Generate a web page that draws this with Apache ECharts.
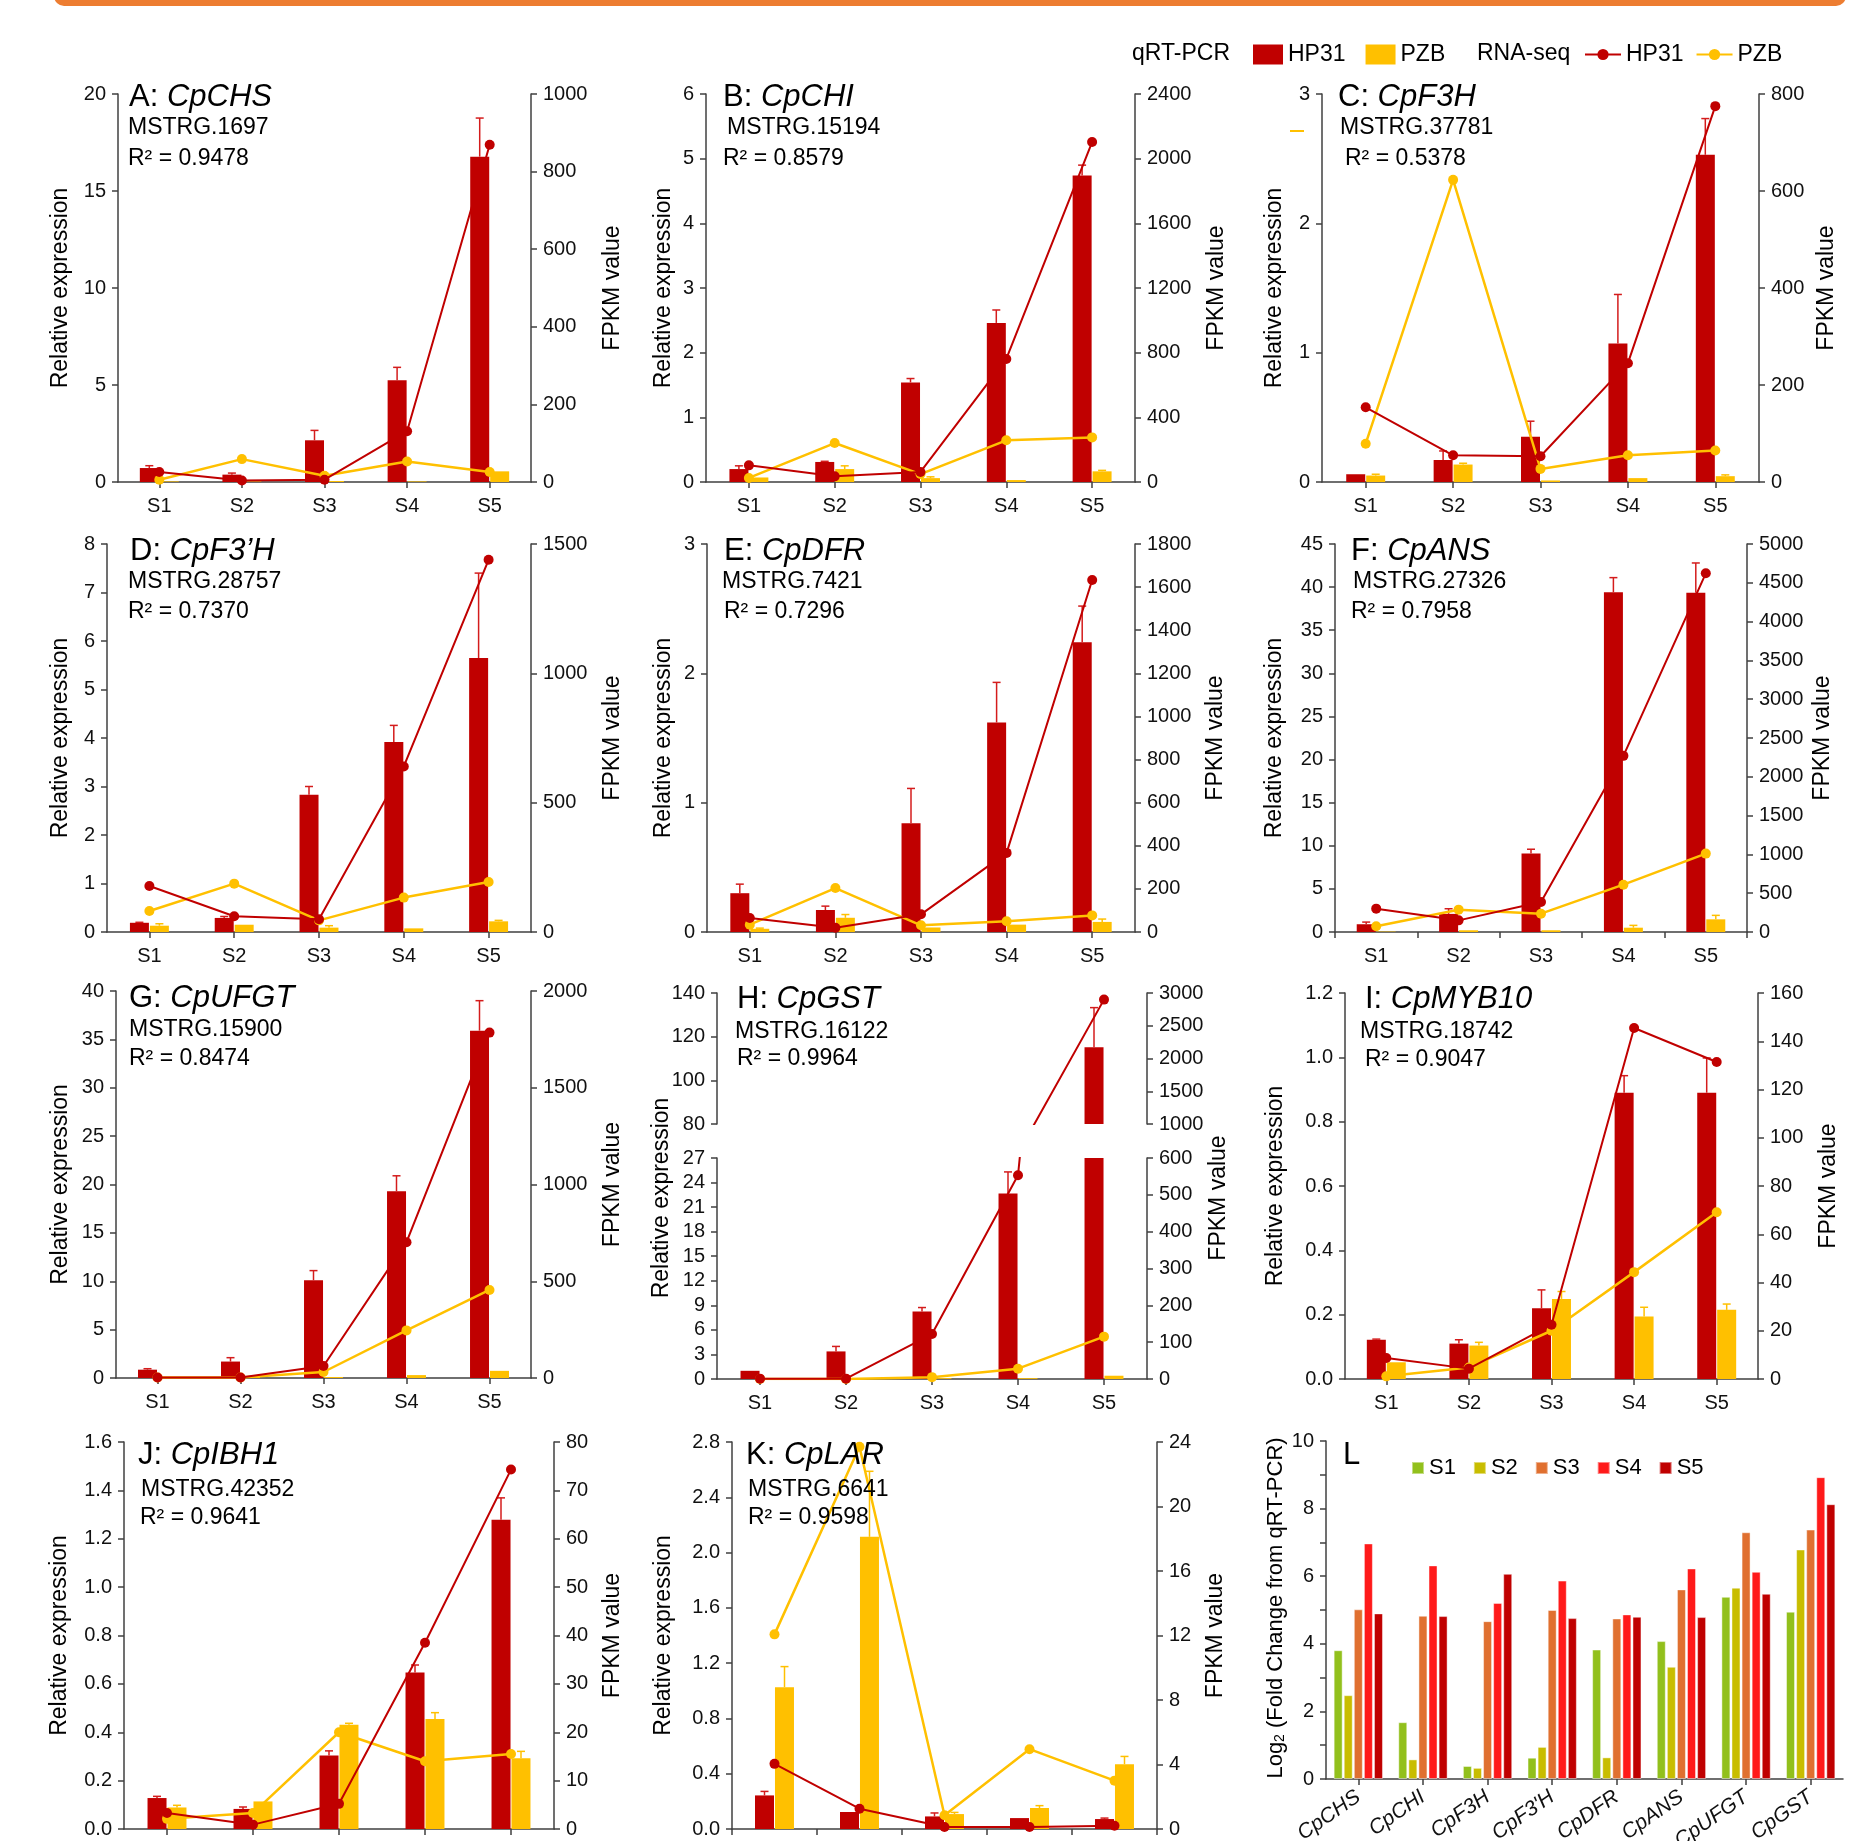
<!DOCTYPE html>
<html><head><meta charset="utf-8">
<script src="https://cdn.jsdelivr.net/npm/echarts@6/dist/echarts.min.js"></script>
<style>html,body{margin:0;padding:0;background:#fff}#c{width:1868px;height:1841px}</style>
</head><body><div id="c"></div>
<script>
// ---------------- DATA ----------------
const stages = ['S1','S2','S3','S4','S5'];

// A: CpCHS
const A_qHP31 = [0.72, 0.38, 2.15, 5.24, 16.77];
const A_qHP31_sd = [0.12, 0.08, 0.51, 0.67, 1.99];
const A_qPZB = [0.03, 0.03, 0.05, 0.03, 0.55];
const A_qPZB_sd = [0, 0, 0, 0, 0];
const A_fHP31 = [26, 4, 6, 131, 869];
const A_fPZB = [6, 59, 16, 53, 26];
// B: CpCHI
const B_qHP31 = [0.20, 0.31, 1.54, 2.46, 4.74];
const B_qHP31_sd = [0.05, 0.01, 0.06, 0.20, 0.16];
const B_qPZB = [0.07, 0.20, 0.06, 0.03, 0.165];
const B_qPZB_sd = [0, 0.05, 0.02, 0, 0.015];
const B_fHP31 = [103, 35, 62, 761, 2103];
const B_fPZB = [25, 241, 49, 258, 276];
// C: CpF3H
const C_qHP31 = [0.06, 0.17, 0.35, 1.07, 2.53];
const C_qHP31_sd = [0, 0.07, 0.12, 0.38, 0.28];
const C_qPZB = [0.05, 0.135, 0.012, 0.03, 0.045];
const C_qPZB_sd = [0.01, 0.01, 0, 0, 0.01];
const C_fHP31 = [154, 55, 53, 245, 775];
const C_fPZB = [79, 623, 27, 55, 65];
// D: CpF3'H
const D_qHP31 = [0.19, 0.29, 2.83, 3.92, 5.65];
const D_qHP31_sd = [0.01, 0.03, 0.17, 0.34, 1.75];
const D_qPZB = [0.13, 0.15, 0.09, 0.075, 0.22];
const D_qPZB_sd = [0.04, 0, 0.04, 0, 0.02];
const D_fHP31 = [178, 61, 49, 640, 1439];
const D_fPZB = [81, 187, 45, 133, 193];
// E: CpDFR
const E_qHP31 = [0.30, 0.17, 0.84, 1.62, 2.24];
const E_qHP31_sd = [0.07, 0.03, 0.27, 0.31, 0.28];
const E_qPZB = [0.025, 0.11, 0.035, 0.057, 0.078];
const E_qPZB_sd = [0.005, 0.025, 0, 0, 0.022];
const E_fHP31 = [65, 20, 82, 367, 1633];
const E_fPZB = [34, 204, 31, 50, 77];
// F: CpANS
const F_qHP31 = [0.9, 2.1, 9.1, 39.4, 39.35];
const F_qHP31_sd = [0.25, 0.6, 0.5, 1.7, 3.45];
const F_qPZB = [0.05, 0.2, 0.2, 0.5, 1.47];
const F_qPZB_sd = [0, 0, 0, 0.27, 0.46];
const F_fHP31 = [301, 150, 387, 2270, 4622];
const F_fPZB = [73, 288, 236, 610, 1010];
// G: CpUFGT
const G_qHP31 = [0.86, 1.7, 10.1, 19.3, 35.9];
const G_qHP31_sd = [0.1, 0.4, 1.0, 1.6, 3.1];
const G_qPZB = [0.1, 0.1, 0.1, 0.3, 0.74];
const G_qPZB_sd = [0, 0, 0, 0, 0];
const G_fHP31 = [3, 3, 62, 702, 1785];
const G_fPZB = [3, 3, 31, 246, 455];
// H: CpGST
const H_qHP31 = [1.0, 3.37, 8.24, 22.65, 115.1];
const H_qHP31_sd = [0, 0.61, 0.49, 2.65, 18.2];
const H_qPZB = [0.05, 0.05, 0.1, 0.1, 0.4];
const H_qPZB_sd = [0, 0, 0, 0, 0];
const H_fHP31 = [1, 1, 122, 553, 2899];
const H_fPZB = [0, 0, 5, 28, 115];
// I: CpMYB10
const I_qHP31 = [0.122, 0.11, 0.22, 0.89, 0.89];
const I_qHP31_sd = [0.002, 0.012, 0.057, 0.053, 0.108];
const I_qPZB = [0.052, 0.104, 0.249, 0.194, 0.215];
const I_qPZB_sd = [0, 0.01, 0.023, 0.029, 0.018];
const I_fHP31 = [8.7, 4.3, 22.5, 145.5, 131.4];
const I_fPZB = [1.1, 4.8, 20, 44.3, 69.1];
// J: CpIBH1
const J_qHP31 = [0.128, 0.083, 0.304, 0.647, 1.279];
const J_qHP31_sd = [0.007, 0.008, 0.019, 0.031, 0.09];
const J_qPZB = [0.089, 0.114, 0.431, 0.455, 0.293];
const J_qPZB_sd = [0.009, 0, 0.006, 0.026, 0.028];
const J_fHP31 = [3.3, 0.9, 5.2, 38.5, 74.3];
const J_fPZB = [2.1, 3.3, 20, 14, 15.5];
// K: CpLAR
const K_qHP31 = [0.243, 0.123, 0.091, 0.079, 0.072];
const K_qHP31_sd = [0.029, 0, 0.025, 0, 0.007];
const K_qPZB = [1.026, 2.114, 0.108, 0.152, 0.469];
const K_qPZB_sd = [0.149, 0.474, 0.012, 0.017, 0.056];
const K_fHP31 = [4.04, 1.26, 0.12, 0.12, 0.2];
const K_fPZB = [12.07, 23.7, 0.85, 4.95, 3.0];
// L: log2 fold change
const L_genes = ['CpCHS','CpCHI','CpF3H',"CpF3'H",'CpDFR','CpANS','CpUFGT','CpGST'];
const L_S1 = [3.81, 1.68, 0.385, 0.63, 3.83, 4.08, 5.39, 4.95];
const L_S2 = [2.48, 0.58, 0.33, 0.95, 0.64, 3.32, 5.66, 6.79];
const L_S3 = [5.02, 4.83, 4.67, 5.0, 4.75, 5.61, 7.3, 7.38];
const L_S4 = [6.97, 6.32, 5.21, 5.87, 4.87, 6.23, 6.13, 8.93];
const L_S5 = [4.9, 4.82, 6.07, 4.76, 4.8, 4.79, 5.48, 8.13];

// ---------------- STYLE / LAYOUT ----------------
const FONT = "'Liberation Sans', Arial, Helvetica, sans-serif";
const TXT = '#111';
const AX = '#404040';
const RED = '#c00000', YEL = '#ffc000', RED_ERR = '#d41c1c';
const L_COLORS = ['#92c01c', '#c8bd00', '#e07030', '#ff1a1a', '#c00000'];
const TICK_FS = 20;

const panels = [
 {id:'A', gene:'CpCHS', mstrg:'MSTRG.1697', r2:'0.9478', q1:A_qHP31,e1:A_qHP31_sd,q2:A_qPZB,e2:A_qPZB_sd,f1:A_fHP31,f2:A_fPZB,
  box:[118,94,531,482], yL:[0,20,5], yR:[0,1000,200], center:true, showX:true, t:[129,97], m:[128,128], r:[128,159], relX:61, fpX:613},
 {id:'B', gene:'CpCHI', mstrg:'MSTRG.15194', r2:'0.8579', q1:B_qHP31,e1:B_qHP31_sd,q2:B_qPZB,e2:B_qPZB_sd,f1:B_fHP31,f2:B_fPZB,
  box:[706,94,1135,482], yL:[0,6,1], yR:[0,2400,400], center:true, showX:true, t:[723,97], m:[727,128], r:[723,159], relX:664, fpX:1217},
 {id:'C', gene:'CpF3H', mstrg:'MSTRG.37781', r2:'0.5378', q1:C_qHP31,e1:C_qHP31_sd,q2:C_qPZB,e2:C_qPZB_sd,f1:C_fHP31,f2:C_fPZB,
  box:[1322,94,1759,482], yL:[0,3,1], yR:[0,800,200], center:true, showX:true, t:[1338,97], m:[1340,128], r:[1345,159], relX:1275, fpX:1827},
 {id:'D', gene:'CpF3\u2019H', mstrg:'MSTRG.28757', r2:'0.7370', q1:D_qHP31,e1:D_qHP31_sd,q2:D_qPZB,e2:D_qPZB_sd,f1:D_fHP31,f2:D_fPZB,
  box:[107,544,531,932], yL:[0,8,1], yR:[0,1500,500], center:true, showX:true, t:[130,551], m:[128,582], r:[128,612], relX:61, fpX:613},
 {id:'E', gene:'CpDFR', mstrg:'MSTRG.7421', r2:'0.7296', q1:E_qHP31,e1:E_qHP31_sd,q2:E_qPZB,e2:E_qPZB_sd,f1:E_fHP31,f2:E_fPZB,
  box:[707,544,1135,932], yL:[0,3,1], yR:[0,1800,200], center:true, showX:true, t:[724,551], m:[722,582], r:[724,612], relX:664, fpX:1216},
 {id:'F', gene:'CpANS', mstrg:'MSTRG.27326', r2:'0.7958', q1:F_qHP31,e1:F_qHP31_sd,q2:F_qPZB,e2:F_qPZB_sd,f1:F_fHP31,f2:F_fPZB,
  box:[1335,544,1747,932], yL:[0,45,5], yR:[0,5000,500], center:false, showX:true, t:[1351,551], m:[1353,582], r:[1351,612], relX:1275, fpX:1823},
 {id:'G', gene:'CpUFGT', mstrg:'MSTRG.15900', r2:'0.8474', q1:G_qHP31,e1:G_qHP31_sd,q2:G_qPZB,e2:G_qPZB_sd,f1:G_fHP31,f2:G_fPZB,
  box:[116,991,531,1378], yL:[0,40,5], yR:[0,2000,500], center:true, showX:true, t:[129,998], m:[129,1030], r:[129,1059], relX:61, fpX:613},
 {id:'I', gene:'CpMYB10', mstrg:'MSTRG.18742', r2:'0.9047', q1:I_qHP31,e1:I_qHP31_sd,q2:I_qPZB,e2:I_qPZB_sd,f1:I_fHP31,f2:I_fPZB,
  box:[1345,993,1758,1379], yL:[0,1.2,0.2], yR:[0,160,20], dec:1, center:true, showX:true, t:[1365,999], m:[1360,1032], r:[1365,1060], relX:1276, fpX:1829},
 {id:'J', gene:'CpIBH1', mstrg:'MSTRG.42352', r2:'0.9641', q1:J_qHP31,e1:J_qHP31_sd,q2:J_qPZB,e2:J_qPZB_sd,f1:J_fHP31,f2:J_fPZB,
  box:[124,1442,554,1829], yL:[0,1.6,0.2], yR:[0,80,10], dec:1, center:true, showX:false, t:[138,1455], m:[141,1490], r:[140,1518], relX:60, fpX:613},
 {id:'K', gene:'CpLAR', mstrg:'MSTRG.6641', r2:'0.9598', q1:K_qHP31,e1:K_qHP31_sd,q2:K_qPZB,e2:K_qPZB_sd,f1:K_fHP31,f2:K_fPZB,
  box:[732,1442,1157,1829], yL:[0,2.8,0.4], yR:[0,24,4], dec:1, center:false, showX:false, t:[746,1455], m:[748,1490], r:[748,1518], relX:664, fpX:1216}
];

const grids = [], xAxes = [], yAxes = [], series = [], graphics = [];

function addGrid(l, t, r, b) {
  grids.push({left:l, top:t, width:r-l, height:b-t, containLabel:false, outerBoundsMode:'none'});
  return grids.length - 1;
}
function xAxisCfg(gi, data, opts) {
  opts = opts || {};
  return {type:'category', gridIndex:gi, data:data, boundaryGap:true, show: opts.show !== false,
    axisLine:{show:true, onZero:false, lineStyle:{color:AX, width:1.5}},
    axisTick:{show:true, alignWithLabel: !!opts.center, length:6, lineStyle:{color:AX, width:1.5}},
    axisLabel:{show: opts.labels !== false, fontSize:opts.fontSize||TICK_FS, color:TXT, fontFamily:FONT, margin:opts.margin||14,
      rotate:opts.rotate||0, fontStyle:opts.italic?'italic':'normal', interval:0},
    splitLine:{show:false}};
}
function yAxisCfg(gi, pos, rng, dec, fmt) {
  return {type:'value', gridIndex:gi, position:pos, min:rng[0], max:rng[1], interval:rng[2],
    axisLine:{show:true, onZero:false, lineStyle:{color:AX, width:1.5}},
    axisTick:{show:true, length:6, lineStyle:{color:AX, width:1.5}},
    axisLabel:{fontSize:TICK_FS, color:TXT, fontFamily:FONT, margin:12,
      formatter: fmt || (dec ? (v => v.toFixed(dec)) : (v => String(v)))},
    splitLine:{show:false}};
}
const errRender = (off, color) => (params, api) => {
  const i = api.value(0), m = api.value(1), s = api.value(2);
  if (!(s > 0)) return null;
  const p0 = api.coord([i, m]), p1 = api.coord([i, m + s]);
  const x = p0[0] + off;
  return {type:'group', children:[
    {type:'line', shape:{x1:x, y1:p0[1], x2:x, y2:p1[1]}, style:{stroke:color, lineWidth:1.5}},
    {type:'line', shape:{x1:x-4, y1:p1[1], x2:x+4, y2:p1[1]}, style:{stroke:color, lineWidth:1.5}}
  ]};
};
function addSeriesSet(gi, yl, yr, q1, e1, q2, e2, f1, f2, filt) {
  filt = filt || (v => v);
  series.push({type:'bar', name:'HP31 qPCR', xAxisIndex:gi, yAxisIndex:yl, data:q1.map(filt), barWidth:19, barGap:'5%',
    itemStyle:{color:RED}, z:2, clip:true});
  series.push({type:'bar', name:'PZB qPCR', xAxisIndex:gi, yAxisIndex:yl, data:q2.map(filt), barWidth:19, barGap:'5%',
    itemStyle:{color:YEL}, z:2, clip:true});
  series.push({type:'custom', xAxisIndex:gi, yAxisIndex:yl, renderItem:errRender(-10, RED_ERR), clip:true, z:3,
    encode:{x:0, y:1}, data:[], silent:true});
  series.push({type:'custom', xAxisIndex:gi, yAxisIndex:yl, renderItem:errRender(10, YEL), clip:true, z:3,
    encode:{x:0, y:1}, data:[], silent:true});
  series.push({type:'line', name:'HP31 RNA', xAxisIndex:gi, yAxisIndex:yr, data:f1, symbol:'circle', symbolSize:10,
    itemStyle:{color:RED}, lineStyle:{color:RED, width:2}, z:5, clip:true});
  series.push({type:'line', name:'PZB RNA', xAxisIndex:gi, yAxisIndex:yr, data:f2, symbol:'circle', symbolSize:10,
    itemStyle:{color:YEL}, lineStyle:{color:YEL, width:2.5}, z:4, clip:true});
}
const errData = (q, e, keep) => q.map((v, i) => [i, v, e[i]]).filter(d => keep ? keep(d) : true);

function addTexts(p, gTop, gBot) {
  graphics.push({type:'text', x:p.t[0], y:p.t[1], z:100, style:{text:'{n|' + p.id + ': }{i|' + p.gene + '}', verticalAlign:'middle', align:'left',
    rich:{n:{fontSize:31, fontFamily:FONT, fill:'#000'}, i:{fontSize:31, fontFamily:FONT, fontStyle:'italic', fill:'#000'}}}});
  graphics.push({type:'text', x:p.m[0], y:p.m[1], z:100, style:{text:p.mstrg, fontSize:23, fontFamily:FONT, fill:'#000', verticalAlign:'middle', align:'left'}});
  graphics.push({type:'text', x:p.r[0], y:p.r[1], z:100, style:{text:'R\u00b2 = ' + p.r2, fontSize:23, fontFamily:FONT, fill:'#000', verticalAlign:'middle', align:'left'}});
  const yc = p.yc || (gTop + gBot) / 2;
  graphics.push({type:'text', x:p.relX, y:yc, rotation:Math.PI/2, style:{text:'Relative expression', fontSize:23, fontFamily:FONT, fill:'#000', align:'center', verticalAlign:'middle'}});
  graphics.push({type:'text', x:p.fpX, y:yc, rotation:Math.PI/2, style:{text:'FPKM value', fontSize:23, fontFamily:FONT, fill:'#000', align:'center', verticalAlign:'middle'}});
}

// regular panels
panels.forEach(p => {
  const gi = addGrid(p.box[0], p.box[1], p.box[2], p.box[3]);
  xAxes.push(xAxisCfg(gi, stages, {center:p.center, labels:p.showX}));
  const yl = yAxes.length; yAxes.push(yAxisCfg(gi, 'left', p.yL, p.dec));
  const yr = yAxes.length; yAxes.push(yAxisCfg(gi, 'right', p.yR, 0));
  addSeriesSet(gi, yl, yr, p.q1, p.e1, p.q2, p.e2, p.f1, p.f2);
  series[series.length - 4].data = errData(p.q1, p.e1);
  series[series.length - 3].data = errData(p.q2, p.e2);
  addTexts(p, p.box[1], p.box[3]);
});

// H: broken axis (upper + lower grids)
(function(){
  const H_upperL = [80, 140, 20], H_upperR = [1000, 3000, 500];
  const H_lowerL = [0, 27, 3], H_lowerR = [0, 600, 100];
  const gu = addGrid(717, 993, 1147, 1124);
  xAxes.push(xAxisCfg(gu, stages, {center:true, show:false}));
  const yul = yAxes.length; yAxes.push(yAxisCfg(gu, 'left', H_upperL, 0));
  const yur = yAxes.length; yAxes.push(yAxisCfg(gu, 'right', H_upperR, 0));
  addSeriesSet(gu, yul, yur, H_qHP31, H_qHP31_sd, H_qPZB, H_qPZB_sd, H_fHP31, H_fPZB, v => (v >= H_upperL[0] ? v : '-'));
  series[series.length - 4].data = errData(H_qHP31, H_qHP31_sd, d => d[1] >= H_upperL[0]);
  series[series.length - 3].data = errData(H_qPZB, H_qPZB_sd, d => d[1] >= H_upperL[0]);
  const gl = addGrid(717, 1158, 1147, 1379);
  xAxes.push(xAxisCfg(gl, stages, {center:true}));
  const yll = yAxes.length; yAxes.push(yAxisCfg(gl, 'left', H_lowerL, 0));
  const ylr = yAxes.length; yAxes.push(yAxisCfg(gl, 'right', H_lowerR, 0));
  addSeriesSet(gl, yll, ylr, H_qHP31, H_qHP31_sd, H_qPZB, H_qPZB_sd, H_fHP31, H_fPZB);
  series[series.length - 4].data = errData(H_qHP31, H_qHP31_sd, d => d[1] + d[2] <= H_lowerL[1]);
  series[series.length - 3].data = errData(H_qPZB, H_qPZB_sd, d => d[1] + d[2] <= H_lowerL[1]);
  addTexts({id:'H', gene:'CpGST', mstrg:'MSTRG.16122', r2:'0.9964', t:[737,999], m:[735,1032], r:[737,1059], relX:662, fpX:1219, yc:1198}, 993, 1379);
})();

// L: log2 fold change grouped bars
(function(){
  const gi = addGrid(1326, 1441, 1843, 1779);
  xAxes.push(xAxisCfg(gi, L_genes, {center:true, rotate:35, italic:true, fontSize:21, margin:16}));
  const yi = yAxes.length;
  yAxes.push(yAxisCfg(gi, 'left', [0, 10, 1], 0, v => (v % 2 === 0 ? String(v) : '')));
  [L_S1, L_S2, L_S3, L_S4, L_S5].forEach((d, k) => {
    series.push({type:'bar', name:stages[k], xAxisIndex:gi, yAxisIndex:yi, data:d, barWidth:9, barGap:'12%',
      itemStyle:{color:L_COLORS[k], borderColor:'rgba(255,255,255,0.45)', borderWidth:1}});
  });
  graphics.push({type:'text', x:1343, y:1455, style:{text:'L', fontSize:31, fontFamily:FONT, fill:'#000', verticalAlign:'middle'}});
  graphics.push({type:'text', x:1276, y:1608, rotation:Math.PI/2, style:{text:'Log{s|2} (Fold Change from qRT-PCR)', align:'center', verticalAlign:'middle',
    fontSize:22, fontFamily:FONT, fill:'#000',
    rich:{s:{fontSize:14, fontFamily:FONT, fill:'#000', verticalAlign:'bottom', padding:[8,0,0,0]}}}});
})();

// top decorations
graphics.push({type:'rect', shape:{x:54, y:-14, width:1792, height:20, r:10}, style:{fill:'#ed7d31'}});
graphics.push({type:'text', x:1132, y:54, style:{text:'qRT-PCR', fontSize:23, fontFamily:FONT, fill:'#000', verticalAlign:'middle'}});
graphics.push({type:'text', x:1477, y:54, style:{text:'RNA-seq', fontSize:23, fontFamily:FONT, fill:'#000', verticalAlign:'middle'}});
graphics.push({type:'line', shape:{x1:1290, y1:131, x2:1304, y2:131}, style:{stroke:YEL, lineWidth:2}});

const legendText = {fontSize:23, fontFamily:FONT, color:'#000'};
const option = {
  animation:false,
  backgroundColor:'#fff',
  textStyle:{fontFamily:FONT},
  grid:grids, xAxis:xAxes, yAxis:yAxes, series:series,
  legend:[
    {left:1248, top:38, padding:5, selectedMode:false, itemWidth:30, itemHeight:20, itemGap:20,
     data:[{name:'HP31 qPCR', icon:'rect'}, {name:'PZB qPCR', icon:'rect'}],
     formatter:n => n.split(' ')[0], textStyle:legendText},
    {left:1579, top:38, padding:5, selectedMode:false, itemWidth:36, itemHeight:14, itemGap:12,
     data:['HP31 RNA', 'PZB RNA'], formatter:n => n.split(' ')[0], textStyle:legendText},
    {left:1406, top:1452, padding:5, selectedMode:false, itemWidth:12, itemHeight:12, itemGap:17,
     data:stages.map(s => ({name:s, icon:'rect'})), textStyle:{fontSize:22, fontFamily:FONT, color:'#000'}}
  ],
  graphic:graphics
};
const chart = echarts.init(document.getElementById('c'), null, {renderer:'canvas'});
chart.setOption(option);
</script></body></html>
